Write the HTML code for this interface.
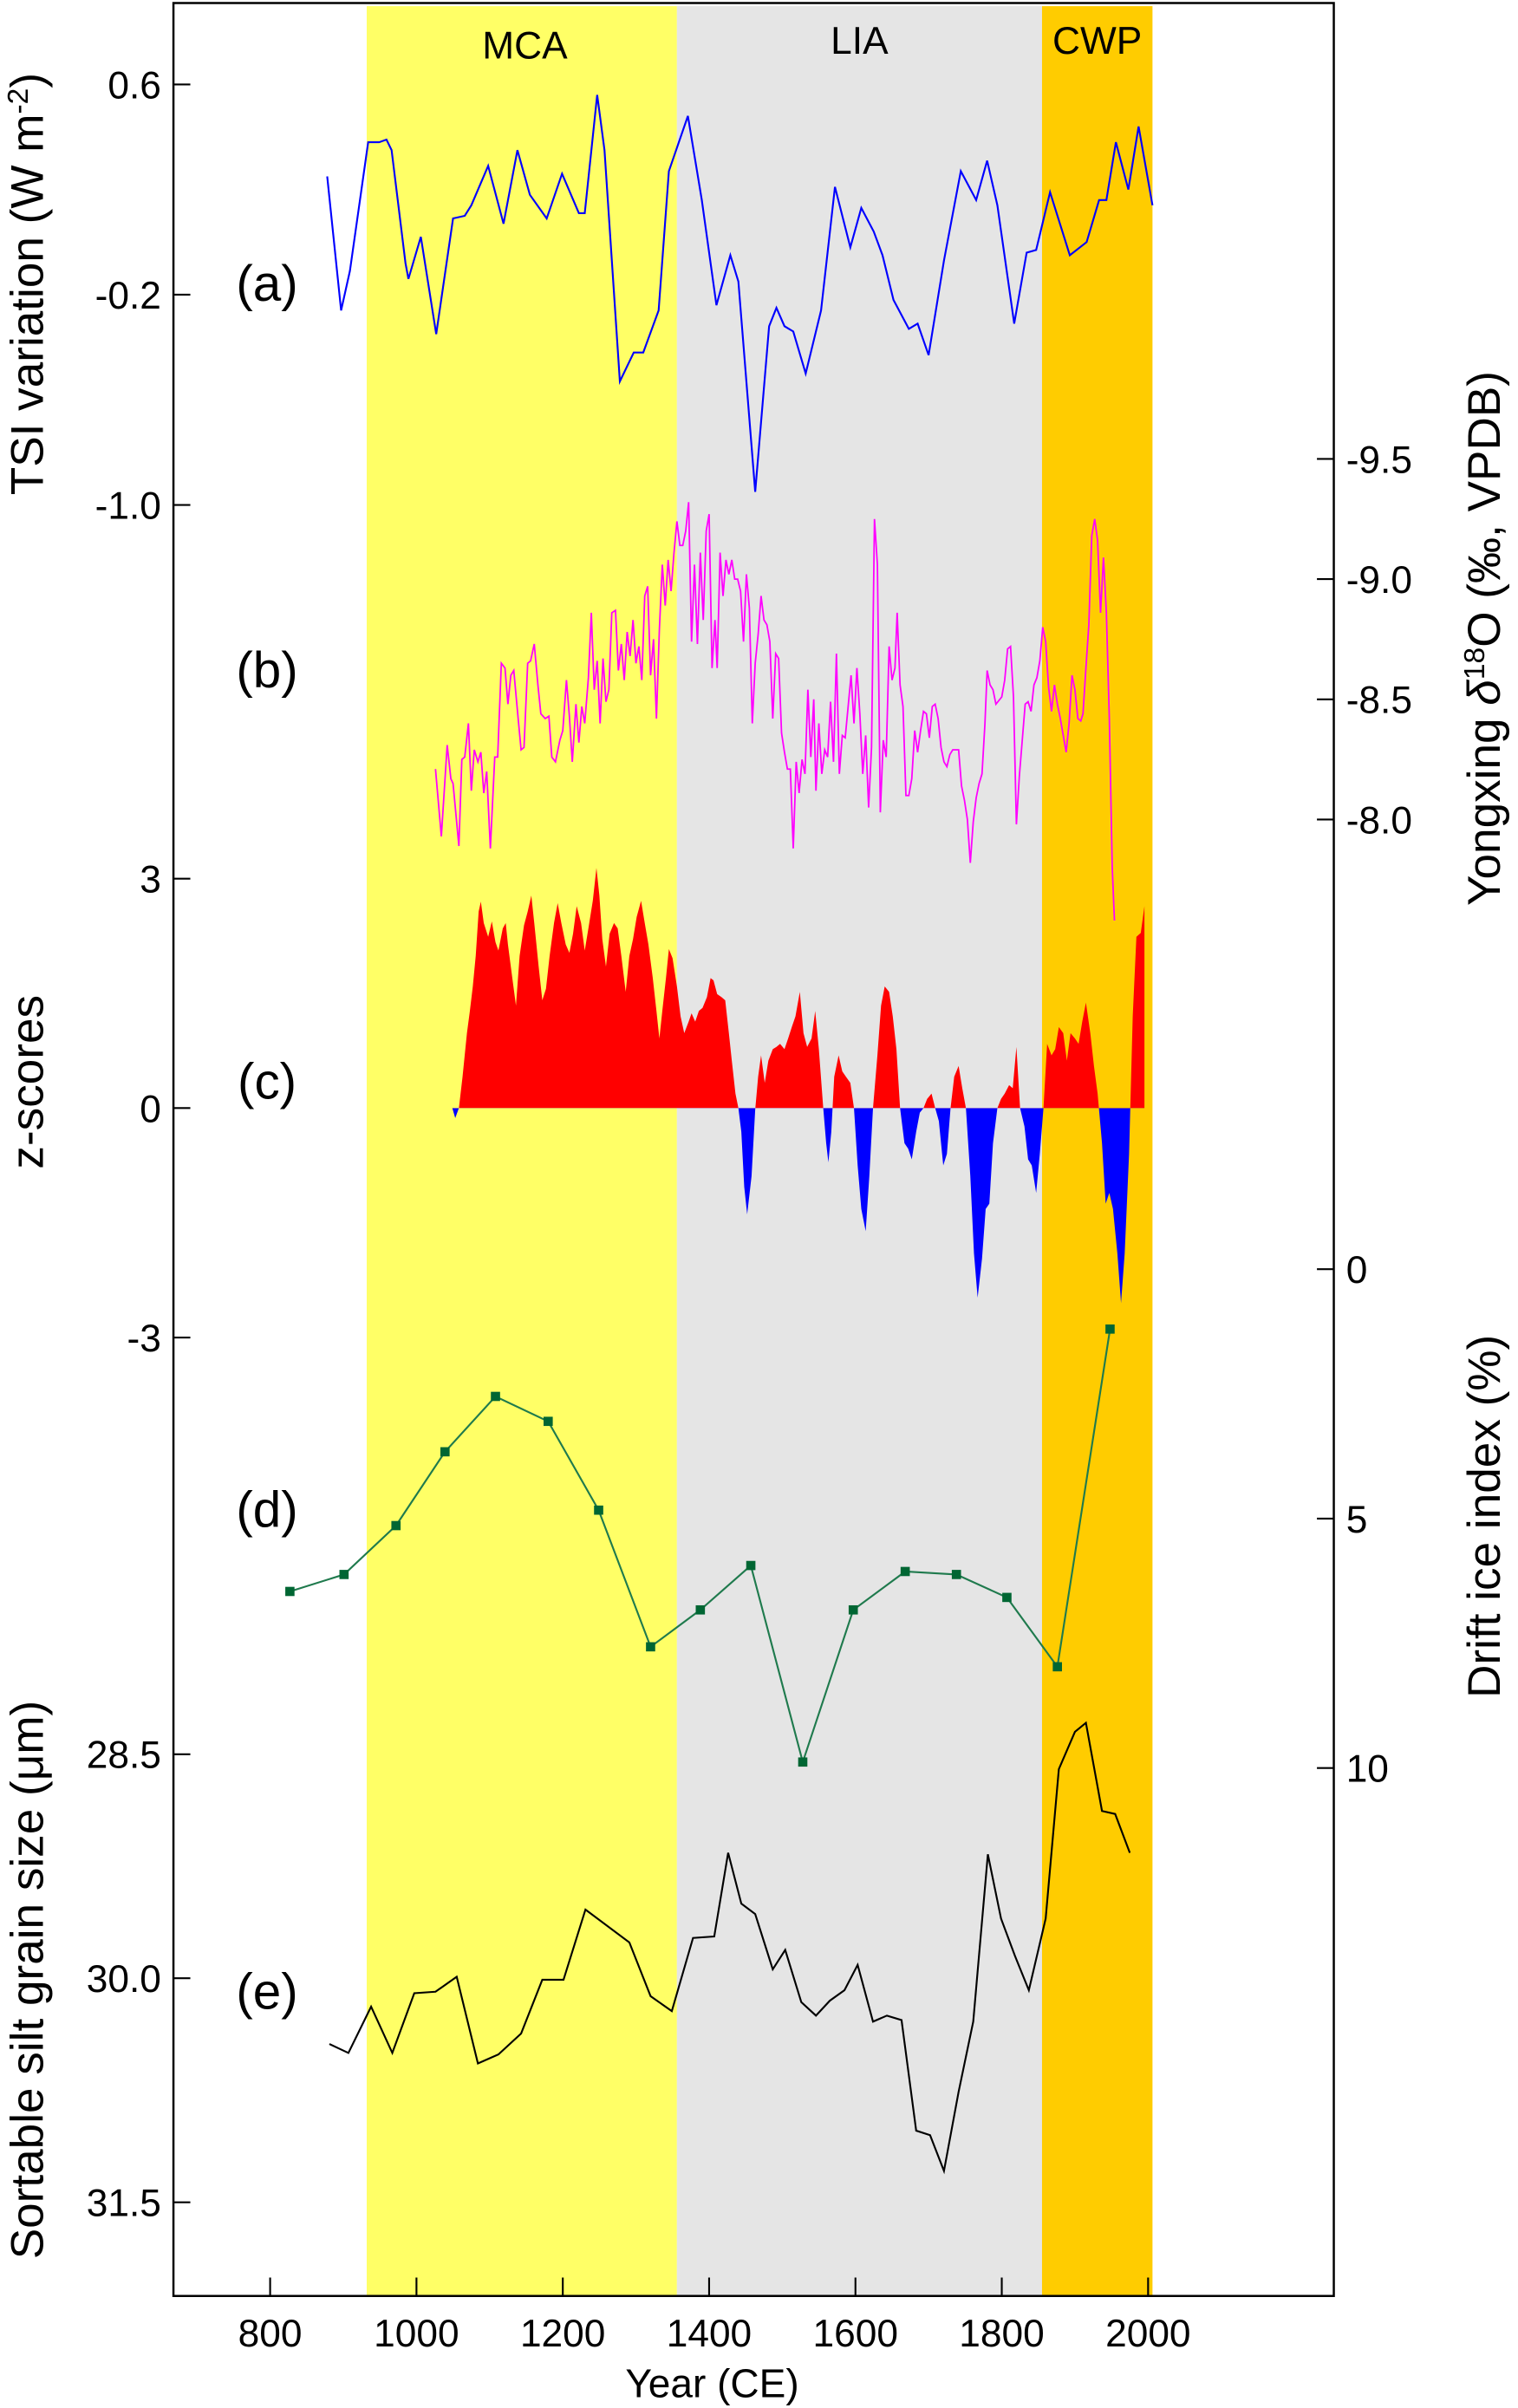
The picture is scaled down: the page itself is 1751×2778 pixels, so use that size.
<!DOCTYPE html>
<html><head><meta charset="utf-8"><style>
html,body{margin:0;padding:0;background:#fff}
svg{display:block}
text{font-family:"Liberation Sans",sans-serif;fill:#000}
</style></head><body>
<svg id="chart" xmlns="http://www.w3.org/2000/svg" width="1751" height="2778" viewBox="0 0 989 1569" preserveAspectRatio="none">
<g id="bands"></g>
<g id="series"></g>
<g id="axes"></g>
</svg>
<script>
const periodNames=["MCA","LIA","CWP"];
const periodStart=[932,1356,1855];
const periodEnd=[1356,1855,2006];
const periodColors=["#ffff66","#e5e5e5","#ffcc00"];
const yearTicks=[800,1000,1200,1400,1600,1800,2000];

const tsiYears=[878,897,909,934,949,959,966,985,989,1006,1027,1050,1066,1075,1098,1119,1138,1155,1178,1199,1222,1230,1247,1257,1278,1297,1310,1331,1345,1371,1390,1410,1429,1440,1463,1482,1492,1503,1515,1532,1553,1572,1593,1608,1625,1637,1652,1673,1685,1700,1721,1744,1765,1780,1794,1817,1834,1847,1866,1893,1916,1933,1943,1956,1973,1987,2006];
const tsiValues=[0.25,-0.26,-0.11,0.38,0.38,0.39,0.35,-0.08,-0.14,0.02,-0.35,0.09,0.10,0.14,0.29,0.07,0.35,0.18,0.09,0.26,0.11,0.11,0.56,0.35,-0.53,-0.42,-0.42,-0.26,0.27,0.48,0.16,-0.24,-0.05,-0.15,-0.95,-0.32,-0.25,-0.32,-0.34,-0.50,-0.26,0.21,-0.02,0.13,0.04,-0.05,-0.22,-0.33,-0.31,-0.43,-0.07,0.27,0.16,0.31,0.14,-0.31,-0.04,-0.03,0.19,-0.05,0.00,0.16,0.16,0.38,0.20,0.44,0.14];
const tsiTicks=[0.6,-0.2,-1.0];

const d18Years=[1026,1034,1042,1047,1050,1058,1062,1066,1071,1075,1079,1084,1088,1092,1096,1101,1107,1111,1116,1121,1125,1129,1133,1139,1143,1147,1152,1156,1161,1166,1170,1176,1181,1185,1190,1196,1200,1205,1209,1213,1218,1222,1226,1230,1235,1239,1243,1247,1251,1255,1259,1263,1267,1272,1276,1280,1284,1288,1292,1296,1300,1304,1308,1312,1316,1320,1324,1328,1332,1336,1340,1344,1348,1352,1356,1360,1364,1368,1372,1376,1380,1384,1388,1392,1396,1400,1404,1408,1411,1415,1419,1423,1427,1431,1435,1439,1443,1447,1451,1455,1459,1463,1467,1471,1475,1479,1483,1487,1491,1495,1499,1503,1507,1511,1515,1519,1523,1527,1531,1535,1539,1543,1546,1550,1554,1558,1562,1566,1570,1574,1578,1582,1586,1590,1594,1598,1602,1606,1610,1614,1618,1622,1626,1630,1634,1638,1642,1646,1650,1654,1657,1661,1665,1669,1673,1677,1681,1685,1689,1693,1697,1701,1705,1709,1713,1717,1721,1725,1729,1733,1741,1745,1749,1753,1757,1761,1765,1769,1773,1777,1780,1784,1788,1792,1800,1804,1808,1812,1816,1820,1824,1828,1832,1836,1840,1844,1848,1852,1856,1860,1864,1868,1872,1876,1880,1884,1888,1892,1896,1900,1904,1908,1911,1915,1919,1923,1927,1931,1935,1939,1943,1947,1951,1954];
const d18Values=[-8.21,-7.93,-8.31,-8.17,-8.15,-7.89,-8.25,-8.26,-8.40,-8.12,-8.29,-8.24,-8.28,-8.11,-8.20,-7.88,-8.26,-8.26,-8.65,-8.63,-8.48,-8.60,-8.62,-8.42,-8.29,-8.30,-8.65,-8.66,-8.73,-8.56,-8.44,-8.42,-8.43,-8.26,-8.24,-8.33,-8.37,-8.58,-8.43,-8.24,-8.48,-8.32,-8.47,-8.40,-8.59,-8.86,-8.54,-8.66,-8.40,-8.67,-8.49,-8.54,-8.86,-8.87,-8.62,-8.73,-8.58,-8.78,-8.68,-8.83,-8.65,-8.72,-8.58,-8.93,-8.97,-8.60,-8.75,-8.42,-8.79,-9.06,-8.89,-9.08,-8.95,-9.11,-9.24,-9.14,-9.14,-9.20,-9.32,-8.74,-9.06,-8.73,-9.11,-8.83,-9.20,-9.27,-8.63,-8.83,-8.63,-9.11,-8.93,-9.08,-9.02,-9.08,-9.00,-9.00,-8.95,-8.74,-9.02,-8.88,-8.40,-8.65,-8.77,-8.93,-8.83,-8.81,-8.74,-8.42,-8.69,-8.67,-8.36,-8.28,-8.21,-8.21,-7.88,-8.24,-8.11,-8.25,-8.19,-8.54,-8.26,-8.50,-8.12,-8.40,-8.19,-8.29,-8.26,-8.49,-8.24,-8.69,-8.19,-8.35,-8.34,-8.47,-8.60,-8.40,-8.63,-8.44,-8.19,-8.35,-8.05,-8.30,-9.25,-9.06,-8.03,-8.33,-8.26,-8.72,-8.58,-8.63,-8.86,-8.56,-8.47,-8.10,-8.10,-8.17,-8.37,-8.28,-8.37,-8.45,-8.44,-8.34,-8.47,-8.48,-8.42,-8.30,-8.24,-8.22,-8.27,-8.29,-8.29,-8.14,-8.08,-8.00,-7.82,-7.99,-8.09,-8.15,-8.19,-8.40,-8.62,-8.56,-8.54,-8.48,-8.51,-8.58,-8.71,-8.72,-8.51,-7.98,-8.18,-8.33,-8.48,-8.49,-8.45,-8.56,-8.59,-8.66,-8.80,-8.74,-8.55,-8.45,-8.56,-8.48,-8.42,-8.35,-8.28,-8.40,-8.60,-8.54,-8.42,-8.41,-8.44,-8.63,-8.81,-9.18,-9.25,-9.16,-8.86,-9.09,-8.86,-8.42,-7.80,-7.58];
const d18Ticks=[-9.5,-9.0,-8.5,-8.0];

const zYears=[1049,1053,1058,1063,1069,1073,1077,1081,1085,1088,1092,1098,1103,1108,1112,1118,1122,1125,1131,1136,1141,1147,1152,1157,1161,1167,1172,1177,1182,1188,1193,1198,1204,1209,1214,1219,1225,1230,1235,1241,1246,1250,1254,1259,1264,1270,1275,1280,1286,1291,1296,1301,1307,1312,1317,1323,1328,1332,1336,1341,1345,1350,1356,1361,1366,1372,1376,1381,1386,1391,1397,1402,1406,1411,1417,1422,1427,1431,1436,1440,1444,1448,1452,1458,1463,1467,1471,1476,1481,1487,1492,1497,1503,1508,1513,1518,1524,1529,1534,1540,1545,1550,1556,1560,1563,1567,1571,1577,1582,1587,1593,1598,1603,1608,1614,1619,1624,1630,1635,1640,1646,1651,1656,1661,1667,1672,1677,1683,1688,1693,1698,1704,1709,1714,1720,1725,1730,1735,1741,1746,1751,1757,1762,1767,1773,1778,1783,1788,1794,1799,1804,1810,1815,1820,1825,1831,1836,1841,1847,1852,1857,1862,1868,1873,1878,1884,1889,1894,1900,1905,1910,1915,1921,1926,1931,1937,1942,1947,1952,1958,1963,1968,1974,1979,1984,1990,1995];
const zValues=[0,-0.13,0,0.41,0.98,1.27,1.59,1.99,2.57,2.70,2.42,2.24,2.44,2.17,2.06,2.35,2.42,2.14,1.70,1.34,1.99,2.39,2.57,2.78,2.42,1.85,1.41,1.56,1.99,2.42,2.68,2.42,2.14,2.03,2.28,2.64,2.42,2.06,2.35,2.71,3.14,2.78,2.21,1.85,2.28,2.42,2.35,1.99,1.52,1.99,2.21,2.50,2.71,2.42,2.14,1.70,1.27,0.91,1.27,1.70,2.08,1.96,1.59,1.20,0.98,1.13,1.24,1.13,1.27,1.31,1.45,1.70,1.67,1.49,1.45,1.41,0.98,0.62,0.19,0,-0.31,-1.03,-1.39,-0.89,-0.02,0.41,0.69,0.33,0.62,0.77,0.80,0.84,0.77,0.91,1.06,1.20,1.52,0.98,0.80,0.91,1.27,0.77,0,-0.46,-0.71,-0.31,0.41,0.69,0.48,0.41,0.33,0,-0.75,-1.32,-1.61,-0.89,0,0.69,1.34,1.59,1.52,1.20,0.77,0,-0.46,-0.53,-0.67,-0.31,-0.06,0,0.12,0.19,0,-0.17,-0.75,-0.60,0,0.41,0.55,0.26,0,-0.89,-1.90,-2.48,-1.97,-1.32,-1.25,-0.46,0,0.12,0.19,0.30,0.26,0.80,0,-0.24,-0.67,-0.75,-1.11,-0.60,0,0.84,0.69,0.77,1.06,0.98,0.62,0.98,0.91,0.84,1.13,1.38,0.98,0.55,0.19,-0.46,-1.25,-1.11,-1.32,-1.90,-2.55,-1.90,-0.60,1.20,2.24,2.29,2.64];
const zTicks=[3,0,-3];

const iceYears=[827,901,972,1039,1108,1180,1249,1320,1388,1457,1528,1597,1668,1738,1807,1876,1948];
const iceValues=[6.46,6.12,5.14,3.66,2.55,3.05,4.83,7.57,6.83,5.94,9.88,6.83,6.06,6.12,6.58,7.97,1.20];
const iceTicks=[0,5,10];

const siltYears=[881,907,938,967,997,1026,1055,1084,1112,1143,1172,1201,1231,1291,1320,1349,1378,1407,1426,1444,1463,1487,1504,1526,1546,1565,1585,1603,1624,1643,1663,1683,1702,1721,1741,1761,1781,1799,1818,1837,1860,1878,1900,1915,1937,1955,1975];
const siltValues=[30.44,30.50,30.19,30.50,30.10,30.09,29.99,30.57,30.51,30.37,30.01,30.01,29.54,29.76,30.12,30.22,29.73,29.72,29.16,29.50,29.57,29.94,29.81,30.16,30.25,30.15,30.08,29.91,30.29,30.25,30.28,31.02,31.05,31.29,30.76,30.29,29.17,29.60,29.85,30.08,29.60,28.60,28.35,28.29,28.88,28.90,29.16];
const siltTicks=[28.5,30.0,31.5];

const NS="http://www.w3.org/2000/svg";
const L=113,R=869,T=2,B=1496;
function xS(yr){return 176+(yr-800)*0.47667;}
function yTSI(v){return 55+(0.6-v)*171.25;}
function yD18(v){return 299+(v+9.5)*156.67;}
function yZ(v){return 722-v*49.83;}
function yIce(v){return 827+v*32.5;}
function ySilt(v){return 1289+(v-30)*97.33;}
function mk(tag,attrs,parent){const e=document.createElementNS(NS,tag);for(const k in attrs)e.setAttribute(k,attrs[k]);parent.appendChild(e);return e;}
function pts(xs,ys,fy){return xs.map((x,i)=>xS(x).toFixed(2)+","+fy(ys[i]).toFixed(2)).join(" ");}

const bands=document.getElementById('bands');
periodNames.forEach((n,i)=>{
  const r=mk('rect',{x:xS(periodStart[i]),y:4,width:xS(periodEnd[i])-xS(periodStart[i]),height:B-4,fill:periodColors[i]},bands);
  
  
  const t=mk('text',{x:(xS(periodStart[i])+xS(periodEnd[i]))/2+(i==0?2:0),y:i==0?38:35,'text-anchor':'middle','font-size':25},bands);
  t.textContent=n;
  
  
});

const S=document.getElementById('series');
const defs=mk('defs',{},S);
const cpA=mk('clipPath',{id:'above'},defs);mk('rect',{x:0,y:0,width:989,height:yZ(0)},cpA);
const cpB=mk('clipPath',{id:'below'},defs);mk('rect',{x:0,y:yZ(0),width:989,height:900},cpB);
let zd="M"+xS(zYears[0])+","+yZ(0)+" L"+pts(zYears,zValues,yZ).replace(/ /g," L")+" L"+xS(zYears[zYears.length-1])+","+yZ(0)+" Z";
const zr=mk('path',{d:zd,fill:'#ff0000','clip-path':'url(#above)'},S);


const zb=mk('path',{d:zd,fill:'#0000ff','clip-path':'url(#below)'},S);



const tsi=mk('polyline',{points:pts(tsiYears,tsiValues,yTSI),fill:'none',stroke:'#0000ff','stroke-width':1.2},S);


const d18=mk('polyline',{points:pts(d18Years,d18Values,yD18),fill:'none',stroke:'#ff00ff','stroke-width':1},S);


const ice=mk('polyline',{points:pts(iceYears,iceValues,yIce),fill:'none',stroke:'#1f7a4d','stroke-width':1.2},S);


iceYears.forEach((yr,i)=>{
  const m=mk('rect',{x:xS(yr)-3,y:yIce(iceValues[i])-3,width:6,height:6,fill:'#006633'},S);
  
  
});
const silt=mk('polyline',{points:pts(siltYears,siltValues,ySilt),fill:'none',stroke:'#000','stroke-width':1.2},S);



const A=document.getElementById('axes');
const frame=mk('path',{d:`M${L},${T} H${R} V${B} H${L} Z`,fill:'none',stroke:'#000','stroke-width':1.4},A);


function leftTicks(vals,fy,fmt,name){
  vals.forEach(v=>{
    mk('line',{x1:L,x2:L+11,y1:fy(v),y2:fy(v),stroke:'#000','stroke-width':1.2},A);
    const t=mk('text',{x:L-8,y:fy(v)+9,'text-anchor':'end','font-size':25},A);
    t.textContent=fmt(v);
    
    
  });
}
function rightTicks(vals,fy,fmt,name){
  vals.forEach(v=>{
    mk('line',{x1:R-11,x2:R,y1:fy(v),y2:fy(v),stroke:'#000','stroke-width':1.2},A);
    const t=mk('text',{x:R+8,y:fy(v)+9,'text-anchor':'start','font-size':25},A);
    t.textContent=fmt(v);
    
    
  });
}
leftTicks(tsiTicks,yTSI,v=>v.toFixed(1),'tsi');
leftTicks(zTicks,yZ,v=>String(v),'z');
leftTicks(siltTicks,ySilt,v=>v.toFixed(1),'silt');
rightTicks(d18Ticks,yD18,v=>v.toFixed(1),'d18o');
rightTicks(iceTicks,yIce,v=>String(v),'ice');
yearTicks.forEach(yr=>{
  mk('line',{x1:xS(yr),x2:xS(yr),y1:B-12,y2:B,stroke:'#000','stroke-width':1.2},A);
  const t=mk('text',{x:xS(yr),y:1529,'text-anchor':'middle','font-size':25},A);
  t.textContent=yr;
  
  
});
function label(txt,x,y,size,rot,name){
  const t=mk('text',{x:x,y:y,'text-anchor':'middle','font-size':size,transform:rot?`rotate(${rot} ${x} ${y})`:''},A);
  t.innerHTML=txt;
  
  
  return t;
}
label('Year (CE)',464,1562,26,0,'x-axis-title');
label('TSI variation (W m<tspan font-size="19" dy="-10">-2</tspan><tspan dy="10">)</tspan>',28,185,30,-90,'tsi-axis-title');
label('z-scores',28,705,30,-90,'z-axis-title');
label('Sortable silt grain size (μm)',28,1290,30,-90,'silt-axis-title');
label('Yongxing <tspan font-style="italic">δ</tspan><tspan font-size="19" dy="-10">18</tspan><tspan dy="10">O (‰, VPDB)</tspan>',977,416,30,-90,'d18o-axis-title');
label('Drift ice index (%)',977,988,30,-90,'ice-axis-title');
[['(a)',196],['(b)',448],['(c)',716],['(d)',995],['(e)',1309]].forEach(p=>{
  label(p[0],174,p[1],33,0,'panel-label');
});
</script>
</body></html>
